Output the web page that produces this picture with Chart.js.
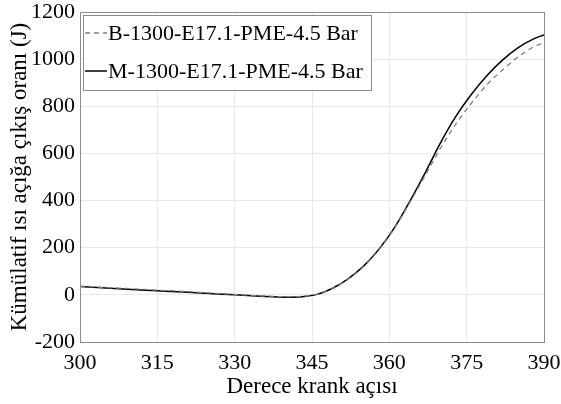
<!DOCTYPE html>
<html>
<head>
<meta charset="utf-8">
<script src="https://cdn.jsdelivr.net/npm/chart.js@4/dist/chart.umd.min.js"></script>
<style>
html,body{margin:0;padding:0;background:#fff;}
#wrap{width:561px;height:404px;position:relative;}
</style>
</head>
<body>
<div id="wrap"><canvas id="c" width="561" height="404"></canvas></div>
<script>
const crankAngle = [300,305,310,315,320,325,330,335,340,343,346,349,352,355,358,361,364,367,370,373,376,379,382,385,388,390];
const seriesB = [37,31,26,20,15,8,2,-4,-8,-6,3,28,67,120,192,283,393,508,625,728,815,893,955,1010,1052,1071];
const seriesM = [35,29,23,17,12,6,0,-6,-10,-8,2,28,68,122,194,285,398,520,648,760,853,932,997,1049,1086,1103];
const labelB = 'B-1300-E17.1-PME-4.5 Bar';
const labelM = 'M-1300-E17.1-PME-4.5 Bar';
const xTicks = [300,315,330,345,360,375,390];
const yTicks = [-200,0,200,400,600,800,1000,1200];
const xTitle = 'Derece krank açısı';
const yTitle = 'Kümülatif ısı açığa çıkış oranı (J)';

const FONT = '"Liberation Serif", "Times New Roman", serif';

const frame = {
  id: 'frame',
  afterDraw(chart) {
    const {ctx, chartArea: a} = chart;
    ctx.save();
    ctx.strokeStyle = '#8c8c8c';
    ctx.lineWidth = 1;
    ctx.strokeRect(Math.round(a.left)+0.5, Math.round(a.top)+0.5, Math.round(a.right-a.left), Math.round(a.bottom-a.top));
    // legend
    const x0 = Math.round(a.left) + 3, y0 = Math.round(a.top) + 3;
    ctx.font = '22px ' + FONT;
    const ds = chart.data.datasets;
    const w = 288, h = 75;
    ctx.fillStyle = '#fff';
    ctx.fillRect(x0+0.5, y0+0.5, w, h);
    ctx.strokeStyle = '#8c8c8c';
    ctx.strokeRect(x0+0.5, y0+0.5, w, h);
    ds.forEach((d, i) => {
      const cy = y0 + 18 + i*38;
      ctx.strokeStyle = d.borderColor;
      ctx.lineWidth = d.borderWidth;
      ctx.setLineDash(d.borderDash || []);
      ctx.beginPath();
      ctx.moveTo(x0 + 2, cy);
      ctx.lineTo(x0 + 24, cy);
      ctx.stroke();
      ctx.setLineDash([]);
      ctx.fillStyle = '#000';
      ctx.textBaseline = 'middle';
      ctx.textAlign = 'left';
      ctx.fillText(d.label, x0 + 25, cy + 1);
    });
    ctx.restore();
  }
};

new Chart(document.getElementById('c'), {
  type: 'line',
  data: {
    labels: crankAngle,
    datasets: [
      {label: labelB, data: crankAngle.map((x,i)=>({x, y: seriesB[i]})), borderColor: '#7f7f7f', borderWidth: 1.3, borderDash: [5,4], pointRadius: 0, cubicInterpolationMode: 'monotone', fill: false},
      {label: labelM, data: crankAngle.map((x,i)=>({x, y: seriesM[i]})), borderColor: '#000', borderWidth: 1.5, pointRadius: 0, cubicInterpolationMode: 'monotone', fill: false}
    ]
  },
  options: {
    responsive: false,
    animation: false,
    layout: {padding: {top: 12, right: 17, left: 0, bottom: 0}},
    plugins: {legend: {display: false}, tooltip: {enabled: false}},
    scales: {
      x: {
        type: 'linear', min: 300, max: 390,
        afterBuildTicks(s){ s.ticks = xTicks.map(v=>({value:v})); },
        afterFit(s){ s.height = 62; s.paddingLeft = 0; s.paddingRight = 0; },
        grid: {color: '#e8e8e8', lineWidth: 1, drawTicks: false},
        border: {display: false},
        ticks: {color: '#000', font: {family: FONT, size: 22}, padding: 8, maxRotation: 0, callback: v => String(v)},
        title: {display: true, text: xTitle, color: '#000', font: {family: FONT, size: 23}, padding: {top: 0, bottom: 3}}
      },
      y: {
        type: 'linear', min: -200, max: 1200,
        afterBuildTicks(s){ s.ticks = yTicks.map(v=>({value:v})); },
        afterFit(s){ s.width = 80; s.paddingTop = 0; s.paddingBottom = 0; },
        grid: {color: '#e8e8e8', lineWidth: 1, drawTicks: false},
        border: {display: false},
        ticks: {color: '#000', font: {family: FONT, size: 22}, padding: 5, callback: v => String(v)},
        title: {display: true, text: yTitle, color: '#000', font: {family: FONT, size: 23}, padding: {top: 6, bottom: 0}}
      }
    }
  },
  plugins: [frame]
});
</script>
</body>
</html>
